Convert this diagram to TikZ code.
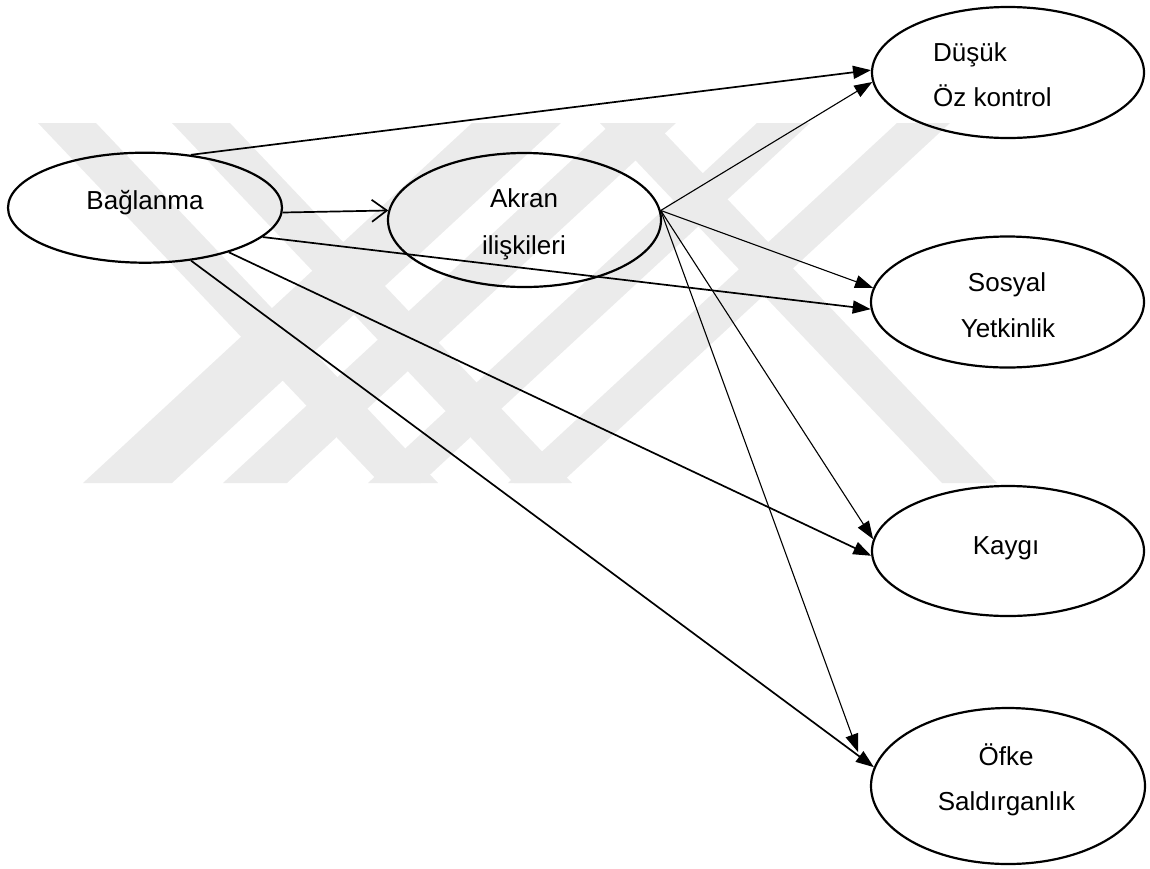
\documentclass[tikz,border=0pt]{standalone}
\usepackage{fontspec}
\setmainfont{Liberation Sans}
\usetikzlibrary{arrows.meta,shapes.geometric}
\begin{document}
\begin{tikzpicture}[x=1pt,y=-1pt,
  every node/.style={font=\fontsize{26}{26}\selectfont},
  oval/.style={draw, ellipse, line width=2.2pt, inner sep=0pt},
  lbl/.style={anchor=base, inner sep=0pt},
  lblw/.style={anchor=base west, inner sep=0pt},
  heavy/.style={line width=1.7pt, -{Triangle[length=18pt,width=13pt]}},
  light/.style={line width=1.1pt, -{Triangle[length=18pt,width=13pt]}},
  openarrow/.style={line width=1.7pt, -{Straight Barb[length=15pt,width=22pt]}},
  wm/.style={fill=black!8}]
\useasboundingbox (0,0) rectangle (1150,868);

% faint background emblem
\fill[wm] (38,123) -- (96,123) -- (438,483) -- (380,483) -- cycle;
\fill[wm] (172,123) -- (230,123) -- (572,483) -- (514,483) -- cycle;
\fill[wm] (600,123) -- (655,123) -- (997,483) -- (942,483) -- cycle;
\fill[wm] (472,123) -- (561,123) -- (172,483) -- (83,483) -- cycle;
\fill[wm] (612,123) -- (676,123) -- (287,483) -- (223,483) -- cycle;
\fill[wm] (757,123) -- (810,123) -- (421,483) -- (368,483) -- cycle;
\fill[wm] (897,123) -- (950,123) -- (561,483) -- (508,483) -- cycle;

% ovals
\node[oval, minimum width=274pt, minimum height=110pt] (bag) at (145,207.7) {};
\node[oval, minimum width=273pt, minimum height=134pt] (ak)  at (524.5,220) {};
\node[oval, minimum width=272pt, minimum height=131pt] (dus) at (1008,72.5) {};
\node[oval, minimum width=273pt, minimum height=131pt] (sos) at (1007.5,302) {};
\node[oval, minimum width=272pt, minimum height=130pt] (kay) at (1008,551) {};
\node[oval, minimum width=274pt, minimum height=156pt] (ofk) at (1008,786) {};

% labels
\node[lbl]  (tbag)  at (145,209.5) {Bağlanma};
\node[lbl]  (tak1)  at (524,207.7) {Akran};
\node[lbl]  (tak2)  at (524,254)   {ilişkileri};
\node[lblw] (tdus1) at (933,61.7)  {Düşük};
\node[lblw] (tdus2) at (933,106.7) {Öz kontrol};
\node[lbl]  (tsos1) at (1007,291.7) {Sosyal};
\node[lbl]  (tsos2) at (1008,337.3) {Yetkinlik};
\node[lbl]  (tkay)  at (1006,554)  {Kaygı};
\node[lbl]  (tofk1) at (1006,765)  {Öfke};
\node[lbl]  (tofk2) at (1006.5,810.7) {Saldırganlık};

% free end of the last path from the peer-relations oval
\coordinate (e9) at (858,752);

% paths
\draw[heavy] (bag.49) -- (dus.179);
\draw[light] (ak.4) -- (dus.184);
\draw[light] (ak.4) -- (sos.174);
\draw[heavy] (bag.-14) -- (sos.183.4);
\draw[openarrow] (bag.-2) -- (ak.176.5);
\draw[heavy] (bag.-28) -- (kay.182);
\draw[light] (ak.4) -- (kay.175);
\draw[heavy] (bag.-49) -- (ofk.172);
\draw[light] (ak.4) -- (e9);
\end{tikzpicture}
\end{document}
